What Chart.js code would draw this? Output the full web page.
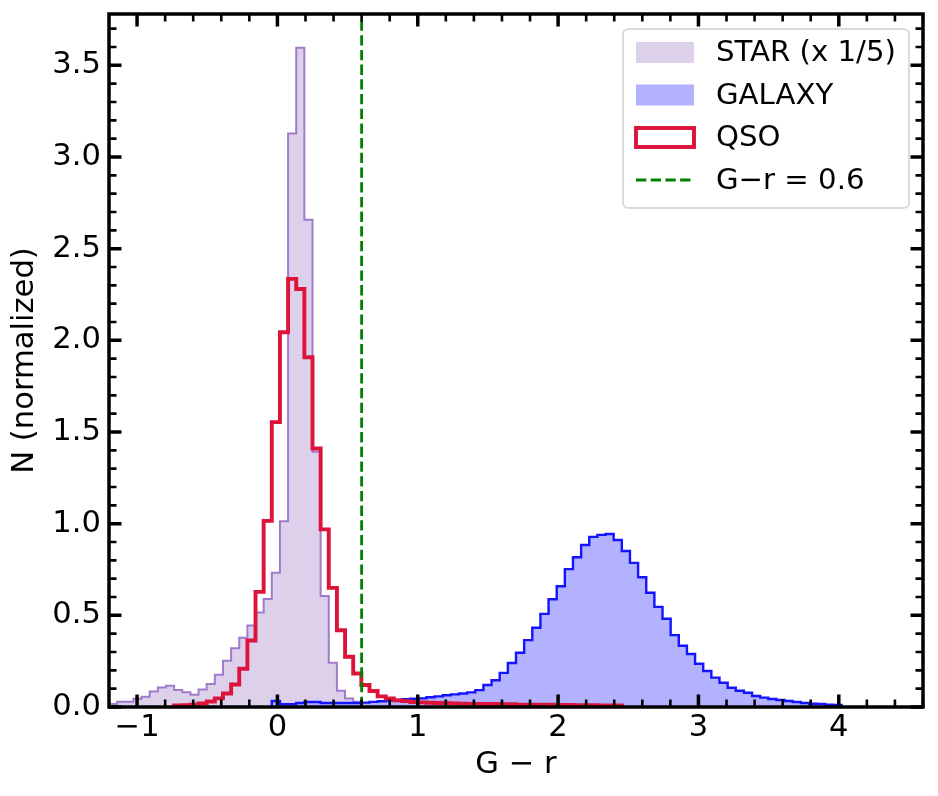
<!DOCTYPE html>
<html>
<head>
<meta charset="utf-8">
<script src="https://cdn.jsdelivr.net/npm/chart.js@4/dist/chart.umd.min.js"></script>
<style>
  html, body { margin: 0; padding: 0; background: #fff; }
  #wrap { width: 938px; height: 796px; }
</style>
</head>
<body>
<div id="wrap"><canvas id="chartColor" width="938" height="796"></canvas></div>
<script>
// histogram bins: all series share the same edges
var BIN_EDGE_MIN = -1.2;
var BIN_WIDTH = 0.058;

// STAR (x 1/5), starts at bin 0
var STAR_FIRST_BIN = 0;
var STAR_VALUES = [0.016, 0.029, 0.029, 0.045, 0.056, 0.084, 0.107, 0.116, 0.093, 0.080,
    0.067, 0.096, 0.125, 0.176, 0.252, 0.321, 0.378, 0.444, 0.515, 0.589,
    0.732, 1.013, 3.128, 3.596, 2.658, 1.392, 0.605, 0.241, 0.088, 0.046,
    0.029, 0.020, 0.012, 0.008, 0.005, 0.004];

// GALAXY, starts at bin 20
var GALAXY_FIRST_BIN = 20;
var GALAXY_VALUES = [0.033, 0.015, 0.015, 0.022, 0.027, 0.027, 0.022, 0.022, 0.022, 0.022,
    0.022, 0.024, 0.028, 0.031, 0.035, 0.038, 0.042, 0.045, 0.047, 0.053,
    0.058, 0.064, 0.069, 0.074, 0.080, 0.092, 0.120, 0.146, 0.186, 0.240,
    0.296, 0.365, 0.432, 0.508, 0.588, 0.659, 0.752, 0.817, 0.884, 0.928,
    0.939, 0.944, 0.911, 0.851, 0.786, 0.708, 0.623, 0.546, 0.481, 0.392,
    0.334, 0.289, 0.236, 0.196, 0.160, 0.132, 0.105, 0.089, 0.078, 0.060,
    0.051, 0.044, 0.038, 0.033, 0.027, 0.022, 0.018, 0.016, 0.012, 0.011];

// QSO, starts at bin 8
var QSO_FIRST_BIN = 8;
var QSO_VALUES = [0.008, 0.010, 0.012, 0.020, 0.030, 0.047, 0.074, 0.123, 0.209, 0.363,
    0.628, 1.015, 1.554, 2.044, 2.335, 2.280, 1.908, 1.410, 0.969, 0.650,
    0.419, 0.274, 0.183, 0.120, 0.087, 0.058, 0.046, 0.036, 0.032, 0.027,
    0.025, 0.023, 0.022, 0.021, 0.020, 0.018, 0.017, 0.017, 0.016, 0.016,
    0.015, 0.015, 0.013, 0.013, 0.012, 0.012, 0.012, 0.011, 0.011, 0.010,
    0.010, 0.010, 0.009, 0.009, 0.008];

var CUT_VALUE = 0.6;

var X_MIN = -1.2, X_MAX = 4.6;
var Y_MIN = 0, Y_MAX = 3.78;
var X_TICK_STEP = 1, Y_TICK_STEP = 0.5;
var X_MINOR_STEP = 0.2, Y_MINOR_STEP = 0.1;

var LABELS = ['STAR (x 1/5)', 'GALAXY', 'QSO', 'G\u2212r = 0.6'];

var FONT = "'DejaVu Sans', sans-serif";
var TICK_SIZE = 30.6, LEGEND_SIZE = 29.2;

// step outline points for a histogram (left edge of each bin + closing edges)
function stepPoints(firstBin, values) {
    var pts = [];
    pts.push({ x: BIN_EDGE_MIN + BIN_WIDTH * firstBin, y: 0 });
    values.forEach(function (v, i) {
        pts.push({ x: BIN_EDGE_MIN + BIN_WIDTH * (firstBin + i), y: v });
    });
    pts.push({ x: BIN_EDGE_MIN + BIN_WIDTH * (firstBin + values.length), y: 0 });
    return pts;
}

// inward ticks on all four sides + box frame
var axisFrame = {
    id: 'axisFrame',
    afterDatasetsDraw: function (chart) {
        var ctx = chart.ctx, a = chart.chartArea;
        var xs = chart.scales.x, ys = chart.scales.y;
        var majLen = 12.5, minLen = 7.5;
        ctx.save();
        ctx.strokeStyle = '#000';
        ctx.lineCap = 'butt';

        function near(v, list) {
            return list.some(function (t) { return Math.abs(t - v) < 1e-6; });
        }
        var xMaj = xs.ticks.map(function (t) { return t.value; });
        var yMaj = ys.ticks.map(function (t) { return t.value; });

        // minor ticks
        ctx.lineWidth = 2.6;
        ctx.beginPath();
        for (var v = Math.ceil(X_MIN / X_MINOR_STEP) * X_MINOR_STEP; v <= X_MAX + 1e-9; v += X_MINOR_STEP) {
            if (near(v, xMaj)) continue;
            var px = xs.getPixelForValue(v);
            ctx.moveTo(px, a.bottom); ctx.lineTo(px, a.bottom - minLen);
            ctx.moveTo(px, a.top); ctx.lineTo(px, a.top + minLen);
        }
        for (var w = Math.ceil(Y_MIN / Y_MINOR_STEP) * Y_MINOR_STEP; w <= Y_MAX + 1e-9; w += Y_MINOR_STEP) {
            if (near(w, yMaj)) continue;
            var py = ys.getPixelForValue(w);
            ctx.moveTo(a.left, py); ctx.lineTo(a.left + minLen, py);
            ctx.moveTo(a.right, py); ctx.lineTo(a.right - minLen, py);
        }
        ctx.stroke();

        // major ticks
        ctx.lineWidth = 3.5;
        ctx.beginPath();
        xMaj.forEach(function (t) {
            var px = xs.getPixelForValue(t);
            ctx.moveTo(px, a.bottom); ctx.lineTo(px, a.bottom - majLen);
            ctx.moveTo(px, a.top); ctx.lineTo(px, a.top + majLen);
        });
        yMaj.forEach(function (t) {
            var py = ys.getPixelForValue(t);
            ctx.moveTo(a.left, py); ctx.lineTo(a.left + majLen, py);
            ctx.moveTo(a.right, py); ctx.lineTo(a.right - majLen, py);
        });
        ctx.stroke();

        // frame
        ctx.lineWidth = 3.5;
        ctx.lineJoin = 'miter';
        ctx.strokeRect(a.left, a.top, a.right - a.left, a.bottom - a.top);
        ctx.restore();
    }
};

// matplotlib-like legend box in the upper right
var boxLegend = {
    id: 'boxLegend',
    afterDraw: function (chart) {
        var ctx = chart.ctx, a = chart.chartArea;
        var ds = chart.data.datasets;
        var boxW = 286, boxH = 179;
        var bx = a.right - 14 - boxW, by = a.top + 15;
        var rowH = 42.5, firstRow = by + 23.5;
        var patchX = bx + 13, patchW = 58, patchH = 21;
        var textX = bx + 93;

        ctx.save();
        ctx.beginPath();
        ctx.roundRect(bx, by, boxW, boxH, 5);
        ctx.fillStyle = 'rgba(255,255,255,0.8)';
        ctx.fill();
        ctx.lineWidth = 1.5;
        ctx.strokeStyle = '#d0d0d0';
        ctx.stroke();

        var order = [3, 2, 1, 0];
        order.forEach(function (di, row) {
            var d = ds[di];
            var cy = firstRow + row * rowH;
            if (d.legendKind === 'fill') {
                ctx.fillStyle = d.backgroundColor;
                ctx.fillRect(patchX, cy - patchH / 2, patchW, patchH);
            } else if (d.legendKind === 'outline') {
                ctx.lineWidth = d.borderWidth;
                ctx.strokeStyle = d.borderColor;
                ctx.lineJoin = 'miter';
                ctx.strokeRect(patchX, cy - 9.5, patchW, 19);
            } else {
                ctx.lineWidth = d.borderWidth;
                ctx.strokeStyle = d.borderColor;
                ctx.setLineDash(d.borderDash);
                ctx.beginPath();
                ctx.moveTo(patchX, cy); ctx.lineTo(patchX + patchW, cy);
                ctx.stroke();
                ctx.setLineDash([]);
            }
            ctx.fillStyle = '#000';
            ctx.font = LEGEND_SIZE + 'px ' + FONT;
            ctx.textAlign = 'left';
            ctx.textBaseline = 'middle';
            ctx.fillText(d.label, textX, cy + 1);
        });
        ctx.restore();
    }
};

var ctx = document.getElementById('chartColor').getContext('2d');

var chartData = {
    datasets: [{
        label: LABELS[3],
        legendKind: 'line',
        data: [{ x: CUT_VALUE, y: Y_MIN }, { x: CUT_VALUE, y: Y_MAX }],
        borderColor: '#008000',
        borderWidth: 2.8,
        borderDash: [10.3, 4.4],
        pointRadius: 0,
        fill: false,
        order: 0
    }, {
        label: LABELS[2],
        legendKind: 'outline',
        data: stepPoints(QSO_FIRST_BIN, QSO_VALUES),
        stepped: 'before',
        borderColor: '#dc143c',
        borderWidth: 3.9,
        borderJoinStyle: 'miter',
        pointRadius: 0,
        fill: false,
        order: 1
    }, {
        label: LABELS[1],
        legendKind: 'fill',
        data: stepPoints(GALAXY_FIRST_BIN, GALAXY_VALUES),
        stepped: 'before',
        borderColor: '#1414ff',
        backgroundColor: '#b2b2ff',
        borderWidth: 2.4,
        borderJoinStyle: 'miter',
        pointRadius: 0,
        fill: 'origin',
        order: 2
    }, {
        label: LABELS[0],
        legendKind: 'fill',
        data: stepPoints(STAR_FIRST_BIN, STAR_VALUES),
        stepped: 'before',
        borderColor: '#a07bcb',
        backgroundColor: '#ddd0ea',
        borderWidth: 2,
        borderJoinStyle: 'miter',
        pointRadius: 0,
        fill: 'origin',
        order: 3
    }]
};

var options = {
    responsive: false,
    devicePixelRatio: 1,
    animation: false,
    layout: { padding: { top: 14, right: 15, left: 0, bottom: 0 } },
    plugins: {
        legend: { display: false },
        tooltip: { enabled: false }
    },
    scales: {
        x: {
            type: 'linear',
            min: X_MIN,
            max: X_MAX,
            grid: { display: false, drawTicks: false },
            border: { display: false },
            ticks: {
                stepSize: X_TICK_STEP,
                includeBounds: false,
                padding: 3,
                color: '#000',
                font: { family: FONT, size: TICK_SIZE },
                maxRotation: 0,
                callback: function (v) { return String(v).replace('-', '\u2212'); }
            },
            title: {
                display: true,
                text: 'G \u2212 r',
                color: '#000',
                font: { family: FONT, size: TICK_SIZE },
                padding: { top: 0, bottom: 12.6 }
            },
            afterFit: function (scale) {
                scale.height = 89;
                scale.paddingLeft = 0;
                scale.paddingRight = 0;
            }
        },
        y: {
            type: 'linear',
            min: Y_MIN,
            max: Y_MAX,
            grid: { display: false, drawTicks: false },
            border: { display: false },
            ticks: {
                stepSize: Y_TICK_STEP,
                includeBounds: false,
                padding: 8,
                color: '#000',
                font: { family: FONT, size: TICK_SIZE },
                callback: function (v) { return v.toFixed(1); }
            },
            title: {
                display: true,
                text: 'N (normalized)',
                color: '#000',
                font: { family: FONT, size: TICK_SIZE },
                padding: { top: 6.6, bottom: 0 }
            },
            afterFit: function (scale) {
                scale.width = 109;
                scale.paddingTop = 0;
                scale.paddingBottom = 0;
            }
        }
    }
};

var myChart = new Chart(ctx, {
    type: 'line',
    data: chartData,
    options: options,
    plugins: [axisFrame, boxLegend]
});
</script>
</body>
</html>
